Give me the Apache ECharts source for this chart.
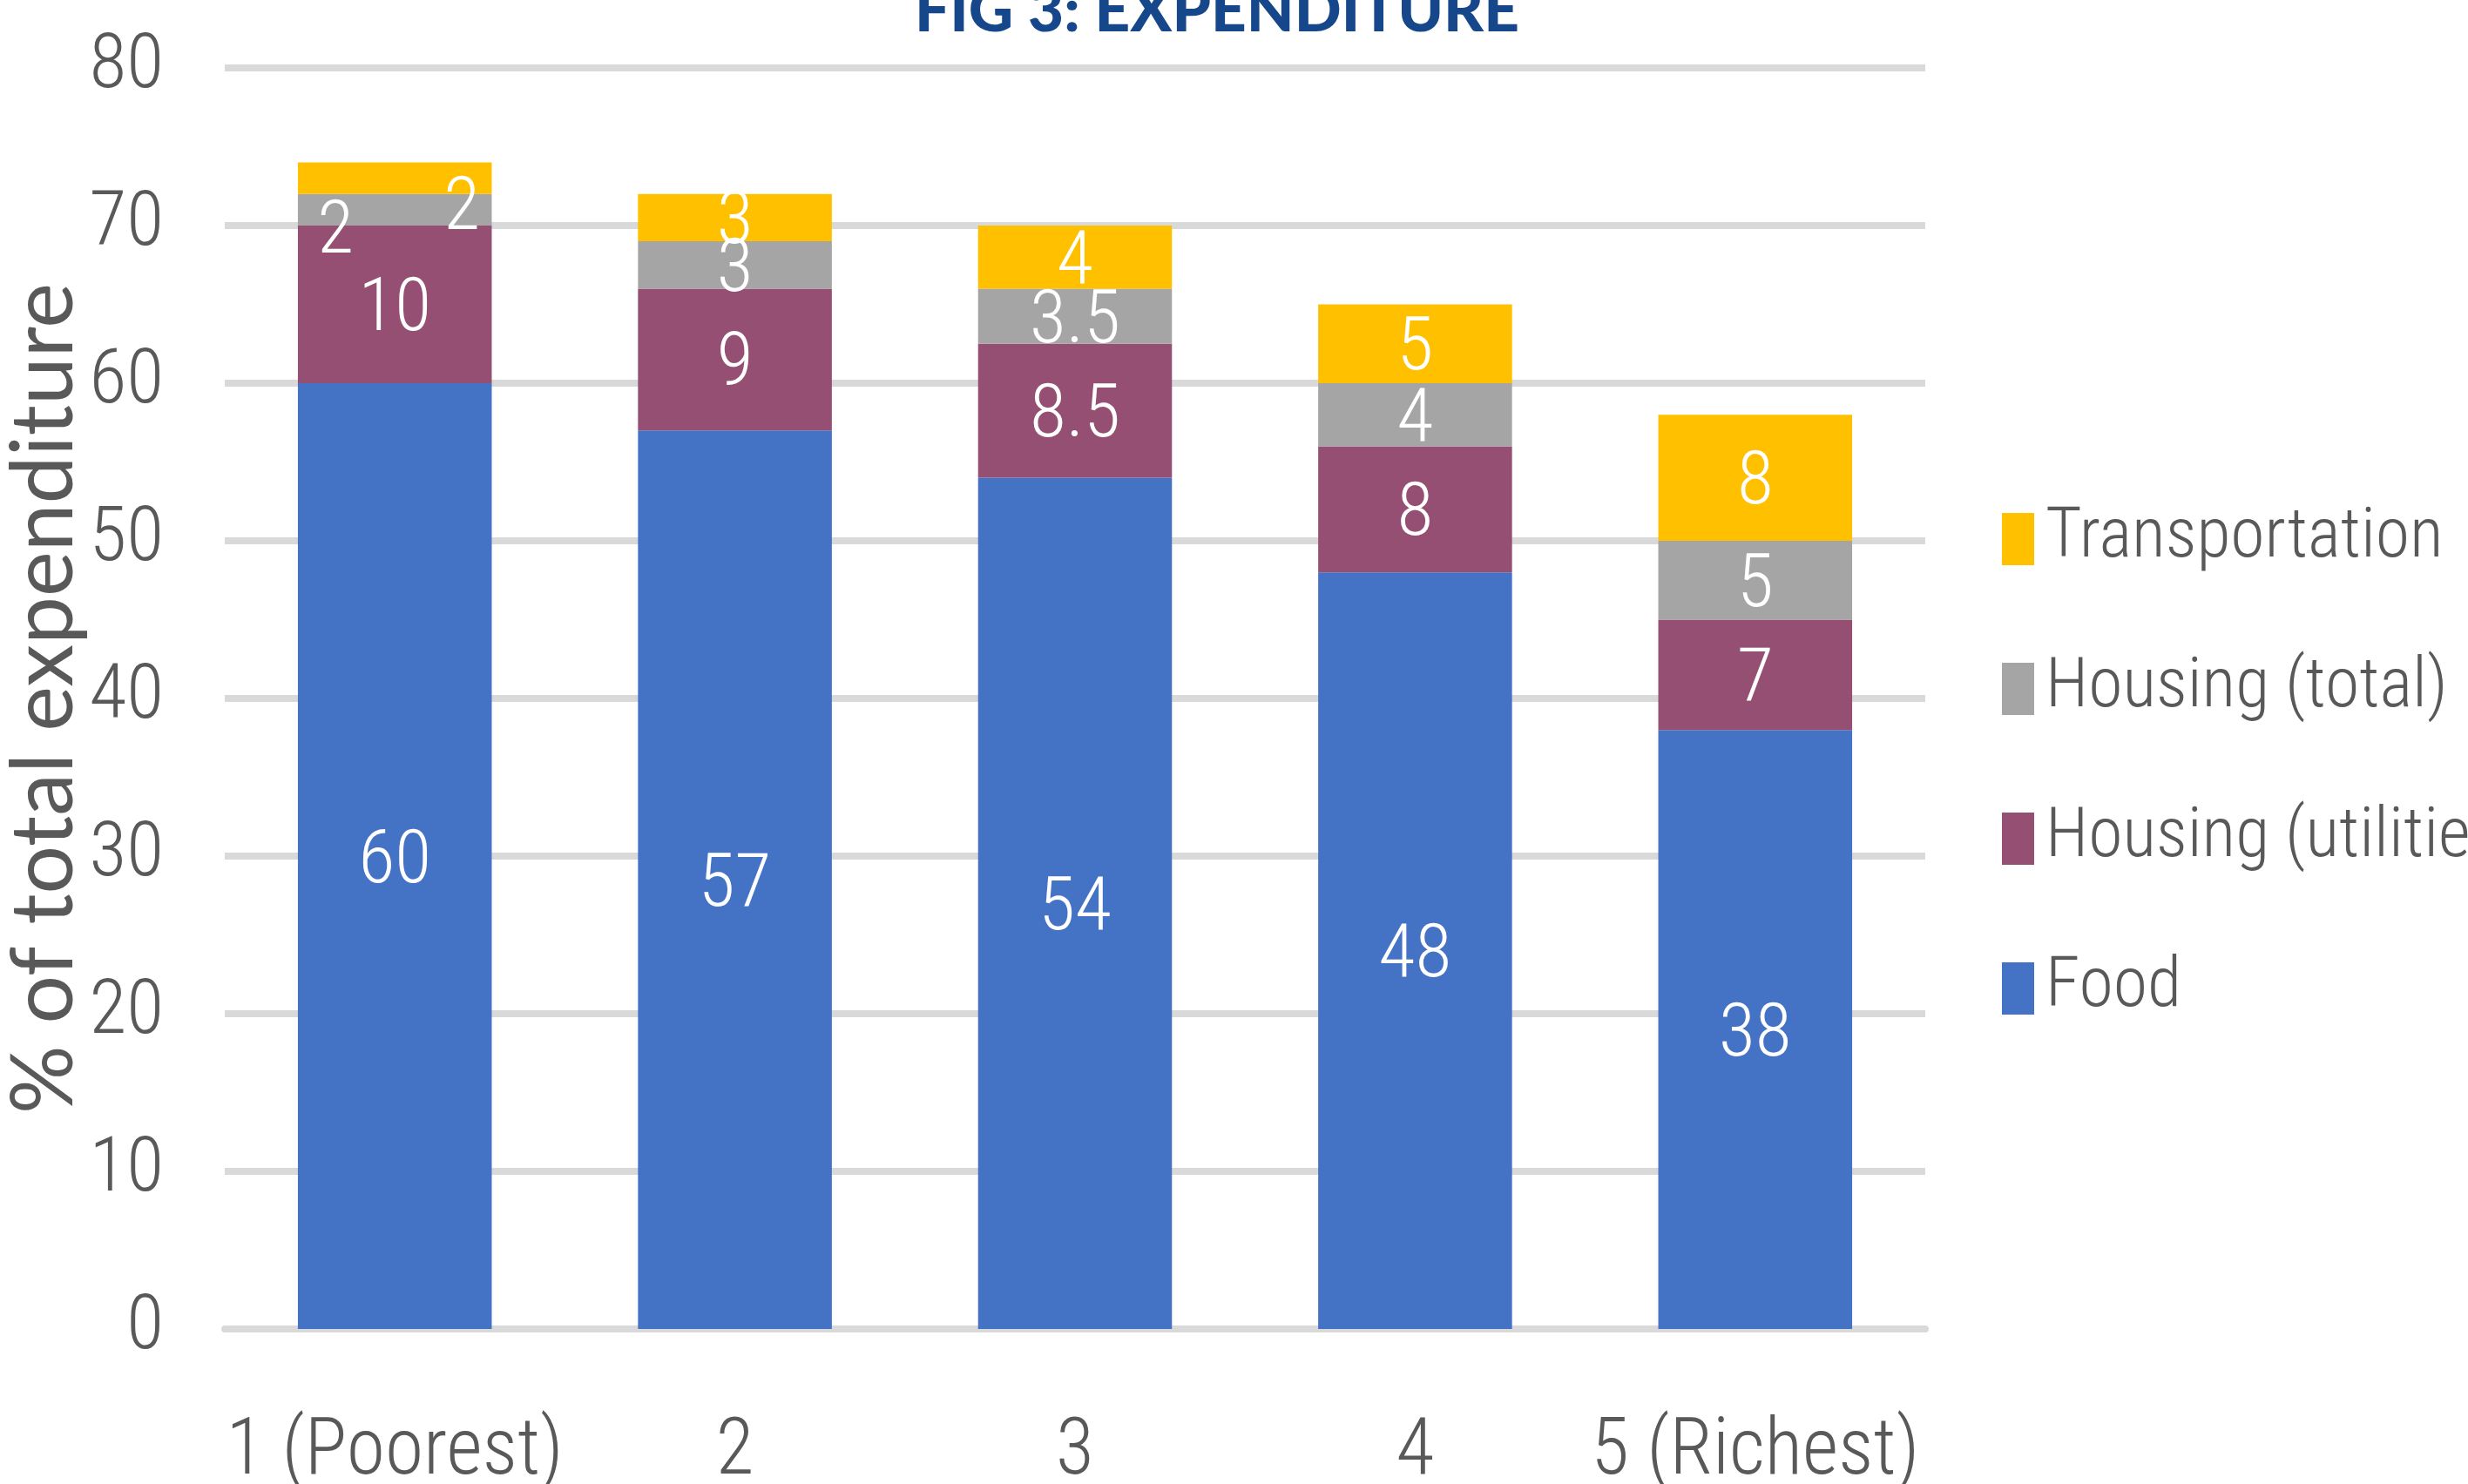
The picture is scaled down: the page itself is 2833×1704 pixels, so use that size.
<!DOCTYPE html>
<html>
<head>
<meta charset="utf-8">
<title>Fig 3: Expenditure</title>
<script src="https://cdn.jsdelivr.net/npm/echarts@6/dist/echarts.min.js"></script>
<style>
  html, body { margin: 0; padding: 0; background: #fff; }
  #chart { width: 2833px; height: 1704px; }
</style>
</head>
<body>
<div id="chart"></div>
<script>
// quintiles of household income
const categories = ["1 (Poorest)", "2", "3", "4", "5 (Richest)"];

// share of total expenditure, %
const food = [60, 57, 54, 48, 38];
const housingUtilities = [10, 9, 8.5, 8, 7];
const housingTotal = [2, 3, 3.5, 4, 5];
const transportation = [2, 3, 4, 5, 8];

const yTicks = [0, 10, 20, 30, 40, 50, 60, 70, 80];

const narrow = "'Roboto Condensed', 'DejaVu Sans Condensed', sans-serif";
const grey = "#595959";

const chart = echarts.init(document.getElementById("chart"));

const labelStyle = {
  show: true,
  position: "inside",
  color: "#fff",
  fontFamily: narrow,
  fontWeight: 300,
  fontSize: 86,
  offset: [0, 8],
};

const makeSeries = (name, data, color) => ({
  name: name,
  type: "bar",
  stack: "total",
  data: data,
  barWidth: "57%",
  itemStyle: { color: color },
  label: labelStyle,
});

const seriesList = [
  makeSeries("Food", food, "#4472C4"),
  makeSeries("Housing (utilities)", housingUtilities, "#954F72"),
  makeSeries("Housing (total)", housingTotal, "#A5A5A5"),
  makeSeries("Transportation", transportation, "#FFC000"),
];

// the two small "2"s in the first bar are pushed aside in the original
seriesList[2].data = housingTotal.map((v, i) =>
  i === 0 ? { value: v, label: { offset: [-68, 28] } } : v
);
seriesList[3].data = transportation.map((v, i) =>
  i === 0 ? { value: v, label: { offset: [77, 37] } } : v
);

chart.setOption({
  animation: false,
  title: {
    text: "FIG 3: EXPENDITURE",
    left: 1045,
    top: -27,
    textStyle: {
      fontFamily: "Lato",
      fontWeight: 900,
      fontSize: 71,
      color: "#15478A",
    },
  },
  legend: {
    orient: "vertical",
    left: 2293,
    top: 569,
    itemWidth: 37,
    itemHeight: 60,
    itemGap: 82,
    icon: "rect",
    data: ["Transportation", "Housing (total)", "Housing (utilities)", "Food"],
    textStyle: {
      fontFamily: narrow,
      fontWeight: 300,
      fontSize: 80,
      lineHeight: 90,
      color: grey,
      padding: [0, 0, 0, 8],
    },
  },
  grid: {
    left: 258,
    right: 2833 - 2210,
    top: 78,
    bottom: 1704 - 1526,
    outerBoundsMode: "none",
    containLabel: false,
  },
  xAxis: {
    type: "category",
    data: categories,
    axisTick: { show: false },
    axisLine: { lineStyle: { color: "#D9D9D9", width: 8 } },
    axisLabel: {
      interval: 0,
      margin: 98,
      fontFamily: narrow,
      fontWeight: 300,
      fontSize: 90,
      color: grey,
    },
  },
  yAxis: {
    type: "value",
    min: yTicks[0],
    max: yTicks[yTicks.length - 1],
    interval: 10,
    name: "% of total expenditure",
    nameLocation: "middle",
    nameGap: 158,
    nameMoveOverlap: false,
    nameTextStyle: {
      fontFamily: "Lato",
      fontSize: 98,
      color: grey,
    },
    axisLabel: {
      margin: 70,
      fontFamily: narrow,
      fontWeight: 300,
      fontSize: 88,
      color: grey,
    },
    splitLine: { lineStyle: { color: "#D9D9D9", width: 8 } },
  },
  series: seriesList,
});

window.addEventListener("resize", () => {
  chart.resize();
});
</script>
</body>
</html>
